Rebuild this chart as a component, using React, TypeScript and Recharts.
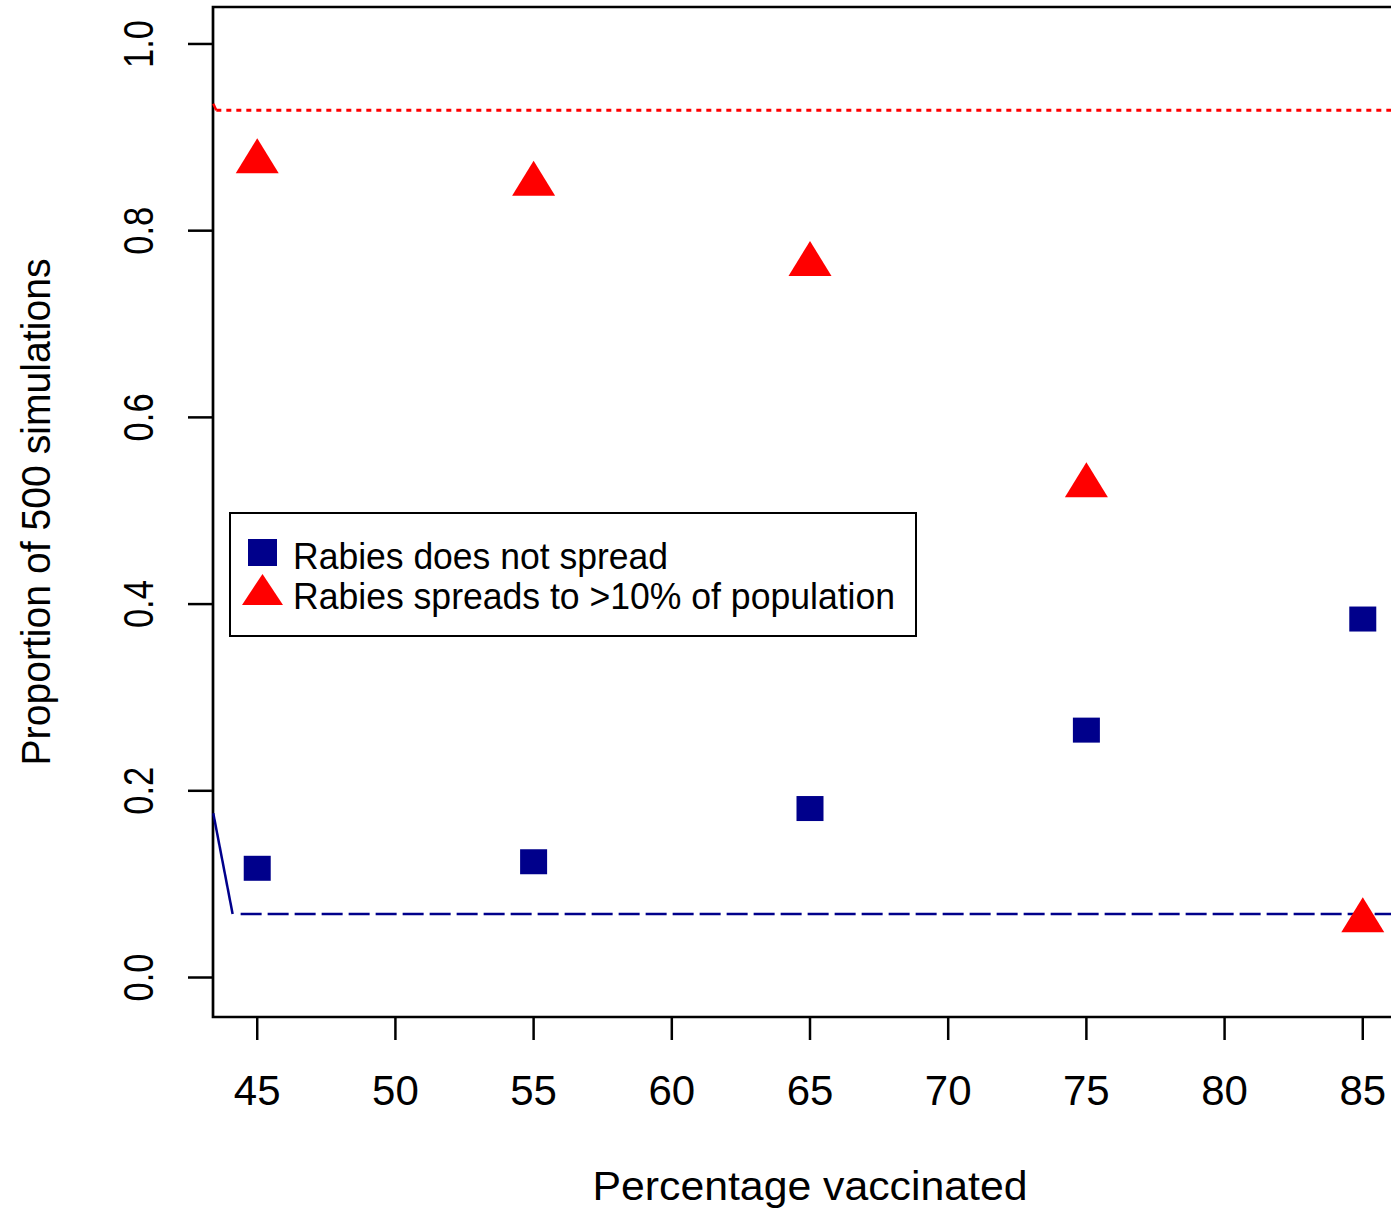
import React from 'react';
import {
  ComposedChart,
  Scatter,
  XAxis,
  YAxis,
  ReferenceLine,
  ReferenceArea,
  Legend,
} from 'recharts';

// percentage vaccinated (x) and proportion of 500 simulations (y)
const pctVaccinated = [45, 55, 65, 75, 85];
const noSpread = [0.117, 0.124, 0.181, 0.265, 0.384];
const spreadOver10 = [0.874, 0.85, 0.764, 0.527, 0.061];

const xTicks = [45, 50, 55, 60, 65, 70, 75, 80, 85];
const yTicks = [0, 0.2, 0.4, 0.6, 0.8, 1.0];

// reference lines
const blueCurve = [
  { x: 43.41, y: 0.176 },
  { x: 44.11, y: 0.068 },
];
const blueDashed = [
  { x: 44.4, y: 0.068 },
  { x: 86.6, y: 0.068 },
];
const redCurve = [
  { x: 43.41, y: 0.936 },
  { x: 43.52, y: 0.929 },
];
const redDotted = [
  { x: 43.52, y: 0.929 },
  { x: 86.6, y: 0.929 },
];

const seriesNames = ['Rabies does not spread', 'Rabies spreads to >10% of population'];

const X_DOMAIN: [number, number] = [43.4, 86.6];
const Y_DOMAIN: [number, number] = [-0.0423, 1.0396];

const BLUE = '#00008B';
const RED = '#FF0000';
const FONT = '"Liberation Sans", Arial, sans-serif';

const noSpreadData = pctVaccinated.map((x, i) => ({ x, y: noSpread[i] }));
const spreadData = pctVaccinated.map((x, i) => ({ x, y: spreadOver10[i] }));

const Square = (props: any) => {
  const { cx, cy } = props;
  if (cx == null || cy == null) return null;
  return <rect x={cx - 13.5} y={cy - 12.5} width={27} height={25} fill={BLUE} />;
};

const Triangle = (props: any) => {
  const { cx, cy } = props;
  if (cx == null || cy == null) return null;
  const r = 23.3;
  const half = 21.5;
  return (
    <polygon
      points={`${cx},${cy - r} ${cx + half},${cy + r / 2} ${cx - half},${cy + r / 2}`}
      fill={RED}
    />
  );
};

const XTick = (props: any) => {
  const { x, y, payload } = props;
  return (
    <text x={x} y={y + 65} textAnchor="middle" fontSize={42} fontFamily={FONT} fill="#000">
      {payload.value}
    </text>
  );
};

const YTick = (props: any) => {
  const { x, y, payload } = props;
  return (
    <text
      x={x}
      y={y}
      transform={`rotate(-90, ${x}, ${y})`}
      textAnchor="middle"
      fontSize={42}
      textLength={48}
      lengthAdjust="spacingAndGlyphs"
      fontFamily={FONT}
      fill="#000"
    >
      {Number(payload.value).toFixed(1)}
    </text>
  );
};

const renderLegend = () => (
  <svg width={690} height={127} style={{ display: 'block' }}>
    <rect x={1} y={1} width={686} height={123} fill="#fff" stroke="#000" strokeWidth={2} />
    <rect x={19} y={27} width={29} height={27} fill={BLUE} />
    <polygon points="33.5,62 54,93 13,93" fill={RED} />
    <text x={64} y={57} fontSize={36} textLength={375} lengthAdjust="spacingAndGlyphs" fontFamily={FONT} fill="#000">
      {seriesNames[0]}
    </text>
    <text x={64} y={97} fontSize={36} textLength={602} lengthAdjust="spacingAndGlyphs" fontFamily={FONT} fill="#000">
      {seriesNames[1]}
    </text>
  </svg>
);

export default function App() {
  return (
    <div
      style={{
        position: 'fixed',
        left: 0,
        top: 0,
        width: 1391,
        height: 1208,
        overflow: 'hidden',
        background: '#fff',
      }}
    >
      <ComposedChart width={1420} height={1208} margin={{ top: 7, right: 13, bottom: 0, left: 0 }}>
        <XAxis
          type="number"
          dataKey="x"
          domain={X_DOMAIN}
          ticks={xTicks}
          allowDataOverflow
          height={191}
          axisLine={false}
          tickLine={{ stroke: '#000', strokeWidth: 2.5 }}
          tickSize={23}
          tickMargin={0}
          tick={<XTick />}
          label={{
            content: (p: any) => {
              const vb = p.viewBox || {};
              return (
                <text
                  x={vb.x + vb.width / 2}
                  y={vb.y + 183}
                  textAnchor="middle"
                  fontSize={40}
                  textLength={435}
                  lengthAdjust="spacingAndGlyphs"
                  fontFamily={FONT}
                  fill="#000"
                >
                  Percentage vaccinated
                </text>
              );
            },
          }}
        />
        <YAxis
          type="number"
          dataKey="y"
          domain={Y_DOMAIN}
          ticks={yTicks}
          allowDataOverflow
          width={213}
          axisLine={false}
          tickLine={{ stroke: '#000', strokeWidth: 2.5 }}
          tickSize={25}
          tickMargin={35}
          tick={<YTick />}
          label={{
            content: (p: any) => {
              const vb = p.viewBox || {};
              const cx = 50;
              const cy = vb.y + vb.height / 2;
              return (
                <text
                  x={cx}
                  y={cy}
                  transform={`rotate(-90, ${cx}, ${cy})`}
                  textAnchor="middle"
                  fontSize={40}
                  textLength={507}
                  lengthAdjust="spacingAndGlyphs"
                  fontFamily={FONT}
                  fill="#000"
                >
                  Proportion of 500 simulations
                </text>
              );
            },
          }}
        />
        <ReferenceArea
          x1={X_DOMAIN[0]}
          x2={X_DOMAIN[1]}
          y1={Y_DOMAIN[0]}
          y2={Y_DOMAIN[1]}
          fill="none"
          fillOpacity={0}
          stroke="#000"
          strokeWidth={2.7}
          ifOverflow="visible"
        />
        <Scatter
          name={seriesNames[0]}
          data={noSpreadData}
          fill={BLUE}
          shape={<Square />}
          isAnimationActive={false}
        />
        <Scatter
          name={seriesNames[1]}
          data={spreadData}
          fill={RED}
          shape={<Triangle />}
          isAnimationActive={false}
        />
        <ReferenceLine segment={blueCurve} stroke={BLUE} strokeWidth={2.5} ifOverflow="visible" />
        <ReferenceLine
          segment={blueDashed}
          stroke={BLUE}
          strokeWidth={2.5}
          strokeDasharray="21 6"
          ifOverflow="visible"
        />
        <ReferenceLine segment={redCurve} stroke={RED} strokeWidth={2.5} ifOverflow="visible" />
        <ReferenceLine
          segment={redDotted}
          stroke={RED}
          strokeWidth={3}
          strokeDasharray="5 5"
          ifOverflow="visible"
        />
        <Legend
          layout="horizontal"
          verticalAlign="middle"
          align="center"
          content={renderLegend}
          wrapperStyle={{ position: 'absolute', left: 229, top: 512, width: 690, height: 127 }}
        />
      </ComposedChart>
    </div>
  );
}
